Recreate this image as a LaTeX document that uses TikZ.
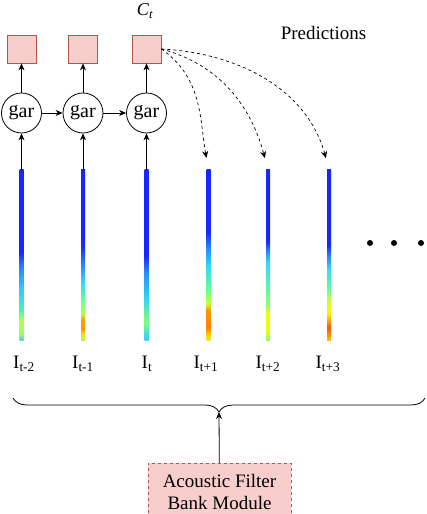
\documentclass[tikz,border=0pt]{standalone}
\usepackage{fontspec}
\setmainfont{LiberationSerif-Regular.ttf}[ItalicFont=LiberationSerif-Italic.ttf,BoldFont=LiberationSerif-Bold.ttf]
\usetikzlibrary{arrows.meta, decorations.pathreplacing}

\definecolor{cellfill}{HTML}{F8CECC}
\definecolor{celldraw}{HTML}{B85450}

% filter bank columns (bottom = 25bp, top = 75bp)
\pgfdeclareverticalshading{barA}{100bp}{rgb(0bp)=(.3,.75,1); rgb(25bp)=(.3,.75,1); rgb(27bp)=(.6,1,.4); rgb(31bp)=(.7,1,.3); rgb(34bp)=(.3,.95,.7); rgb(40bp)=(.2,.8,1); rgb(47bp)=(.15,.5,1); rgb(51bp)=(.1,.15,1); rgb(100bp)=(.1,.15,1)}
\pgfdeclareverticalshading{barB}{100bp}{rgb(0bp)=(.7,1,.3); rgb(25bp)=(.7,1,.3); rgb(27bp)=(.9,.9,.1); rgb(28.5bp)=(1,.6,0); rgb(31.5bp)=(1,.65,0); rgb(33bp)=(.7,1,.3); rgb(37bp)=(.4,1,.6); rgb(42bp)=(.2,.85,.95); rgb(46bp)=(.2,.6,1); rgb(53bp)=(.1,.15,1); rgb(100bp)=(.1,.15,1)}
\pgfdeclareverticalshading{barC}{100bp}{rgb(0bp)=(.2,.8,1); rgb(25bp)=(.2,.8,1); rgb(28bp)=(.3,.9,.8); rgb(30bp)=(.5,1,.5); rgb(33bp)=(.4,.95,.6); rgb(37bp)=(.2,.85,.95); rgb(45bp)=(.15,.55,1); rgb(50bp)=(.1,.15,1); rgb(100bp)=(.1,.15,1)}
\pgfdeclareverticalshading{barD}{100bp}{rgb(0bp)=(.8,1,.2); rgb(25bp)=(.8,1,.2); rgb(27bp)=(1,.8,0); rgb(29bp)=(1,.5,0); rgb(34bp)=(1,.6,0); rgb(36bp)=(.8,1,.2); rgb(40bp)=(.4,1,.6); rgb(47bp)=(.2,.85,.95); rgb(52bp)=(.15,.55,1); rgb(57bp)=(.1,.15,1); rgb(100bp)=(.1,.15,1)}
\pgfdeclareverticalshading{barE}{100bp}{rgb(0bp)=(.5,1,.5); rgb(25bp)=(.5,1,.5); rgb(28bp)=(.9,1,.1); rgb(33bp)=(.95,1,.05); rgb(35bp)=(.6,1,.4); rgb(39bp)=(.4,1,.6); rgb(48bp)=(.2,.85,.95); rgb(52bp)=(.15,.45,1); rgb(54bp)=(.1,.15,1); rgb(100bp)=(.1,.15,1)}
\pgfdeclareverticalshading{barF}{100bp}{rgb(0bp)=(1,.8,0); rgb(25bp)=(1,.8,0); rgb(27bp)=(1,.55,0); rgb(29bp)=(1,.35,0); rgb(31bp)=(1,.65,0); rgb(33bp)=(1,.95,0); rgb(37bp)=(.8,1,.2); rgb(40bp)=(.4,1,.6); rgb(46bp)=(.2,.85,.95); rgb(50bp)=(.15,.5,1); rgb(53bp)=(.1,.15,1); rgb(100bp)=(.1,.15,1)}

\begin{document}
\begin{tikzpicture}[x=1pt,y=1pt]

\tikzset{vertex/.style = {shape=circle,draw,line width=0.8pt,minimum size=40pt,inner sep=0pt,font=\fontsize{20}{24}\selectfont}}
\tikzset{cell/.style = {draw=celldraw,fill=cellfill,line width=0.8pt,minimum width=29pt,minimum height=28pt,inner sep=0pt}}
\tikzset{bar/.style = {shade,minimum width=4pt,minimum height=171pt,inner sep=0pt}}
\tikzset{lbl/.style = {anchor=base,inner sep=0pt,font=\fontsize{19}{23}\selectfont}}
\tikzset{module/.style = {draw=celldraw,fill=cellfill,dashed,line width=0.8pt,minimum width=143pt,minimum height=57pt,align=center,font=\fontsize{19}{22}\selectfont}}
\tikzset{edge/.style = {->,> = {Stealth[length=7pt,width=6pt]},line width=0.8pt}}
\tikzset{pred/.style = {edge,dashed,line width=0.7pt,shorten >=12pt}}

\useasboundingbox (0,0) rectangle (426,514);

%context vectors
\node[cell] (c1) at (21.5,465) {};
\node[cell] (c2) at (83,465) {};
\node[cell] (c3) at (146.5,465) {};
\node[lbl,font=\fontsize{18}{22}\selectfont] (ct) at (145,498) {\textit{C\textsubscript{t}}};
\node[lbl] (pr) at (323.5,474) {Predictions};
%autoregressive
\node[vertex] (g1) at (21.5,401) {g\raisebox{-2pt}{ar}};
\node[vertex] (g2) at (83,401) {g\raisebox{-2pt}{ar}};
\node[vertex] (g3) at (146.5,401) {g\raisebox{-2pt}{ar}};
%filter bank frames
\node[bar,shading=barA] (i1) at (21.5,258.5) {};
\node[bar,shading=barB] (i2) at (83,258.5) {};
\node[bar,shading=barC] (i3) at (146.5,258.5) {};
\node[bar,shading=barD] (i4) at (208.5,258.5) {};
\node[bar,shading=barE] (i5) at (268,258.5) {};
\node[bar,shading=barF] (i6) at (329,258.5) {};
\foreach \x in {370,394,421}
  \fill (\x,271) circle (3pt);
\node[lbl] (l1) at (24,145) {I\textsubscript{t-2}};
\node[lbl] (l2) at (83,145) {I\textsubscript{t-1}};
\node[lbl] (l3) at (147,145) {I\textsubscript{t}};
\node[lbl] (l4) at (206,145) {I\textsubscript{t+1}};
\node[lbl] (l5) at (268,145) {I\textsubscript{t+2}};
\node[lbl] (l6) at (328,145) {I\textsubscript{t+3}};
%module
\coordinate (bl) at (13,116);
\coordinate (br) at (425,116);
\coordinate (tip) at (219,102);
\draw[line width=0.8pt,decorate,decoration={brace,mirror,amplitude=14pt}] (bl) -- (br);
\node[module,anchor=north] (fbm) at (219.5,51) {Acoustic Filter\\Bank Module};

%edges
\draw[edge] (i1) -- (g1);
\draw[edge] (i2) -- (g2);
\draw[edge] (i3) -- (g3);
\draw[edge] (g1) -- (c1);
\draw[edge] (g2) -- (c2);
\draw[edge] (g3) -- (c3);
\draw[edge] (g1) -- (g2);
\draw[edge] (g2) -- (g3);
\draw[pred] (c3.east) to[out=-35,in=100] (i4.north);
\draw[pred] (c3.east) to[out=-15,in=105] (i5.north);
\draw[pred] (c3.east) to[out=-3,in=105] (i6.north);
\draw[edge] (fbm) -- (tip);

\end{tikzpicture}
\end{document}
